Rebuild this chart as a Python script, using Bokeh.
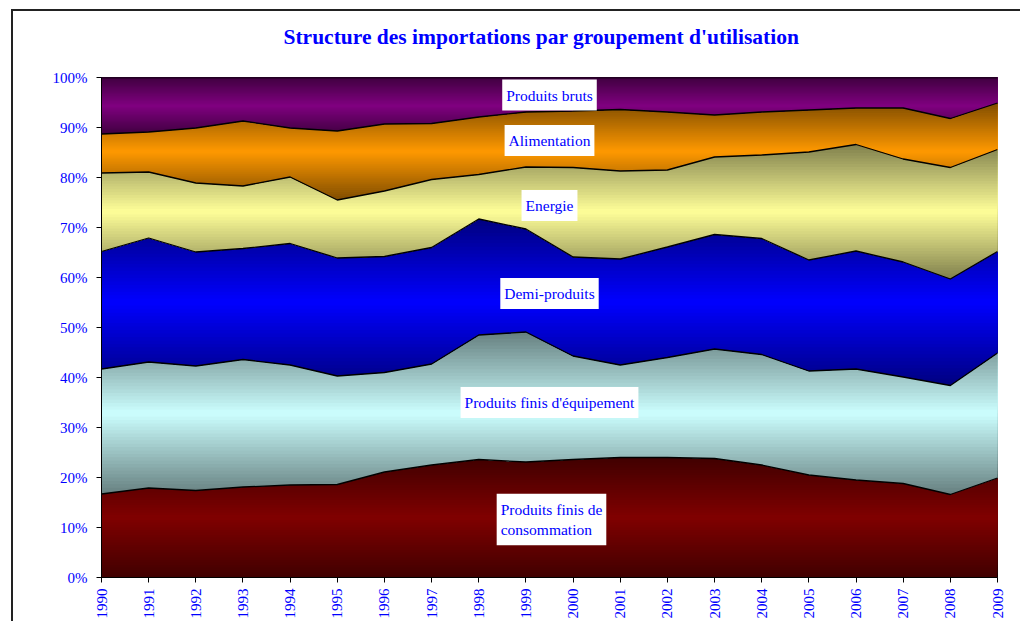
import numpy as np
from bokeh.plotting import figure
from bokeh.models import Range1d, FixedTicker, PrintfTickFormatter, Label
from bokeh.embed import file_html
from bokeh.resources import INLINE

# ---------------- data (shares in %) ----------------
years = list(range(1990, 2010))
cons    = [16.7, 17.9, 17.4, 18.1, 18.5, 18.6, 21.1, 22.5, 23.6, 23.1, 23.6, 24.0, 24.0, 23.8, 22.5, 20.5, 19.5, 18.8, 16.6, 19.9]
equip   = [25.0, 25.2, 24.9, 25.5, 24.0, 21.7, 19.9, 20.2, 24.9, 26.0, 20.7, 18.5, 20.0, 21.9, 22.1, 20.8, 22.2, 21.3, 21.8, 25.0]
demi    = [23.5, 24.8, 22.8, 22.2, 24.3, 23.6, 23.2, 23.3, 23.2, 20.6, 19.8, 21.2, 22.1, 22.9, 23.2, 22.2, 23.6, 23.0, 21.3, 20.3]
energie = [15.7, 13.2, 13.8, 12.5, 13.3, 11.6, 13.1, 13.6, 8.9, 12.4, 17.9, 17.6, 15.4, 15.5, 16.7, 21.6, 21.3, 20.6, 22.3, 20.4]
alim    = [7.8, 8.0, 11.0, 13.0, 9.8, 13.8, 13.4, 11.2, 11.5, 11.0, 11.3, 12.3, 11.6, 8.4, 8.6, 8.4, 7.3, 10.2, 9.8, 9.3]
bruts   = [11.3, 10.9, 10.1, 8.7, 10.1, 10.7, 9.3, 9.2, 7.9, 6.9, 6.7, 6.4, 6.9, 7.5, 6.9, 6.5, 6.1, 6.1, 8.2, 5.1]

series = [cons, equip, demi, energie, alim, bruts]
names = ["Produits finis de\nconsommation", "Produits finis d'équipement", "Demi-produits",
         "Energie", "Alimentation", "Produits bruts"]
base_colors = ["#800000", "#ccffff", "#0000ff", "#ffff99", "#ff9900", "#800080"]
y_ticks = list(range(0, 101, 10))

title = "Structure des importations par groupement d'utilisation"
BLUE = "#0000ff"
FONT = "Liberation Serif"


def hex2rgb(h):
    h = h.lstrip("#")
    return np.array([int(h[i:i + 2], 16) for i in (0, 2, 4)], dtype=float)


def rgb2hex(c):
    c = np.clip(np.round(c), 0, 255).astype(int)
    return "#%02x%02x%02x" % tuple(c)


def crossings(x, y, a):
    out = []
    for j in range(len(x) - 1):
        d0, d1 = y[j] - a, y[j + 1] - a
        if d0 * d1 < 0:
            out.append(x[j] + (x[j + 1] - x[j]) * d0 / (d0 - d1))
    return out


p = figure(width=1020, height=627, output_backend="svg", toolbar_location=None,
           x_range=Range1d(1990, 2009), y_range=Range1d(0, 100),
           min_border_left=101, min_border_right=23, min_border_top=83, min_border_bottom=44)
p.background_fill_color = "white"
p.border_fill_color = None
p.grid.visible = False
p.outline_line_color = "black"
p.outline_line_width = 1

x = np.array(years, dtype=float)
cum = np.cumsum(np.array(series, dtype=float), axis=0)
lowers = [np.zeros(len(years))] + [cum[i] for i in range(len(series) - 1)]
uppers = [cum[i] for i in range(len(series))]

NB = 48
for lo, hi, col in zip(lowers, uppers, base_colors):
    base = hex2rgb(col)
    dark = base * 0.5
    ymin, ymax = lo.min(), hi.max()
    levels = np.linspace(ymin, ymax, NB + 1)
    for k in range(NB):
        a = levels[k]
        t = (k + 0.5) / NB
        f = 1 - abs(2 * t - 1)
        c = rgb2hex(dark + (base - dark) * f)
        xs = np.array(sorted(set(list(x) + crossings(x, lo, a) + crossings(x, hi, a))))
        y1 = np.maximum(np.interp(xs, x, lo), a) if k > 0 else np.interp(xs, x, lo)
        y2 = np.maximum(np.interp(xs, x, hi), a)
        p.varea(x=xs, y1=y1, y2=y2, fill_color=c)

for hi in uppers:
    p.line(x, hi, line_color="black", line_width=1.3)

# axes
p.xaxis.ticker = FixedTicker(ticks=years)
p.xaxis.major_label_orientation = np.pi / 2
p.yaxis.ticker = FixedTicker(ticks=y_ticks)
p.yaxis.formatter = PrintfTickFormatter(format="%d%%")
for ax in (p.xaxis, p.yaxis):
    ax.axis_line_color = "black"
    ax.major_tick_line_color = "black"
    ax.major_tick_out = 5
    ax.major_tick_in = 0
    ax.minor_tick_line_color = None
    ax.major_label_text_color = BLUE
    ax.major_label_text_font = FONT
    ax.major_label_text_font_size = "15px"
p.yaxis.major_label_standoff = 9
p.xaxis.major_label_standoff = 6

# chart title
p.title.text = title
p.title.align = "left"
p.title.offset = 182
p.title.standoff = 57
p.title.text_font = FONT
p.title.text_font_size = "21.5px"
p.title.text_font_style = "bold"
p.title.text_color = BLUE

# in-chart labels
label_pos = [(1998.38, 11.6, "left"), (1999.5, 35.0, "center"), (1999.5, 56.8, "center"),
             (1999.5, 74.4, "center"), (1999.5, 87.4, "center"), (1999.5, 96.5, "center")]
for (lx, ly, al), txt in zip(label_pos, names):
    p.add_layout(Label(x=lx, y=ly, text=txt, text_align=al, text_baseline="middle",
                       text_font=FONT, text_font_size="15.5px", text_color=BLUE,
                       background_fill_color="white",
                       padding=dict(left=4, right=4, top=7, bottom=7)))

# outer chart frame (top and left edges visible in the window), drawn behind the canvas
p.styles = {"margin-top": "-6px",
            "background": ("linear-gradient(#222222, #222222) 11px 15px / 3000px 2px no-repeat, "
                           "linear-gradient(#222222, #222222) 11px 15px / 2px 3000px no-repeat, "
                           "white")}

open("out.html", "w").write(file_html(p, INLINE))
